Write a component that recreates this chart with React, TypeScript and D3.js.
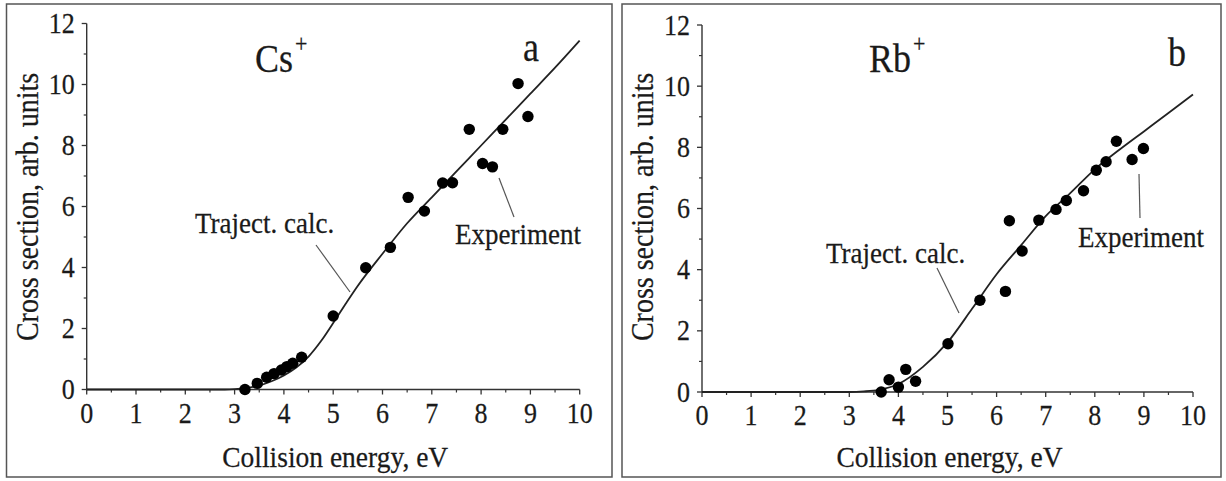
import React from "react";
import * as d3 from "d3";

// ---------- data ----------
const X_TICKS = [0, 1, 2, 3, 4, 5, 6, 7, 8, 9, 10];
const Y_TICKS = [0, 2, 4, 6, 8, 10, 12];

// Cs+ experiment
const CS_EXP_E = [3.21, 3.46, 3.65, 3.8, 3.95, 4.06, 4.18, 4.36, 5.0, 5.66, 6.16, 6.52, 6.85, 7.22, 7.42, 7.76, 8.03, 8.23, 8.44, 8.75, 8.95];
const CS_EXP_S = [0.0, 0.2, 0.4, 0.52, 0.64, 0.75, 0.86, 1.06, 2.41, 3.99, 4.66, 6.3, 5.85, 6.77, 6.78, 8.53, 7.41, 7.3, 8.53, 10.03, 8.95];
// Cs+ trajectory calculation
const CS_CALC_E = [0, 1, 2, 2.8, 3.0, 3.25, 3.5, 3.75, 4.0, 4.25, 4.5, 4.75, 5.0, 5.25, 5.5, 6.0, 6.5, 7.0, 7.5, 8.0, 8.5, 9.0, 9.5, 10.0];
const CS_CALC_S = [0, 0, 0, 0, 0.01, 0.05, 0.13, 0.27, 0.46, 0.72, 1.08, 1.58, 2.18, 2.8, 3.4, 4.45, 5.45, 6.3, 7.15, 8.0, 8.85, 9.7, 10.55, 11.44];

// Rb+ experiment
const RB_EXP_E = [3.65, 3.81, 4.0, 4.15, 4.35, 5.01, 5.66, 6.18, 6.26, 6.52, 6.86, 7.21, 7.42, 7.77, 8.03, 8.23, 8.44, 8.76, 8.99];
const RB_EXP_S = [0.0, 0.4, 0.16, 0.74, 0.35, 1.58, 3.0, 3.29, 5.6, 4.61, 5.62, 5.97, 6.26, 6.58, 7.25, 7.53, 8.2, 7.6, 7.96];
// Rb+ trajectory calculation
const RB_CALC_E = [0, 1, 2, 3.0, 3.3, 3.6, 4.0, 4.5, 5.0, 5.5, 6.0, 6.5, 7.0, 7.5, 8.0, 8.5, 9.0, 9.5, 10.0];
const RB_CALC_S = [0, 0, 0, 0.0, 0.02, 0.07, 0.26, 0.82, 1.62, 2.72, 3.85, 4.8, 5.75, 6.5, 7.28, 7.92, 8.52, 9.12, 9.73];

const X_TITLE = "Collision energy, eV";
const Y_TITLE = "Cross section, arb. units";
const CALC_LABEL = "Traject. calc.";
const EXP_LABEL = "Experiment";

const FONT = "Liberation Serif, Tinos, Times New Roman, DejaVu Serif, serif";
const INK = "#1a1a1a";
const TALL = 1.1; // glyphs in the reference are slightly taller than wide

type TProps = {
  x: number;
  y: number;
  size: number;
  anchor?: "start" | "middle" | "end";
  rotate?: number;
  children: React.ReactNode;
};

function T({ x, y, size, anchor = "start", rotate = 0, children }: TProps) {
  return (
    <text
      transform={`translate(${x},${y}) rotate(${rotate}) scale(${1 / TALL},1)`}
      textAnchor={anchor}
      fontSize={size * TALL}
      fill={INK}
      stroke={INK}
      strokeWidth={0.25}
    >
      {children}
    </text>
  );
}

type PanelProps = {
  frame: { x: number; y: number; w: number; h: number };
  plot: { x0: number; x1: number; y0: number; y1: number };
  expE: number[];
  expS: number[];
  calcE: number[];
  calcS: number[];
  ion: string;
  ionPos: [number, number];
  plusPos: [number, number];
  letter: string;
  letterPos: [number, number];
  calcPos: [number, number];
  calcLine: [number, number, number, number];
  expPos: [number, number];
  expLine: [number, number, number, number];
};

function Panel(p: PanelProps) {
  const x = d3.scaleLinear().domain([0, 10]).range([p.plot.x0, p.plot.x1]);
  const y = d3.scaleLinear().domain([0, 12]).range([p.plot.y0, p.plot.y1]);
  const calc = p.calcE.map((e, i) => [e, p.calcS[i]] as [number, number]);
  const line = d3
    .line<[number, number]>()
    .x((d) => x(d[0]))
    .y((d) => y(d[1]))
    .curve(d3.curveMonotoneX);
  const xMinor = d3.range(0.5, 10, 1);
  const yMinor = d3.range(1, 12, 2);
  const cx = (p.plot.x0 + p.plot.x1) / 2;
  return (
    <g fontFamily={FONT} style={{ fontFamily: FONT }}>
      <rect x={p.frame.x} y={p.frame.y} width={p.frame.w} height={p.frame.h} fill="#fff" stroke="#555" strokeWidth={1.5} />
      {/* axes */}
      <line x1={x(0)} x2={x(10)} y1={y(0)} y2={y(0)} stroke="#333" strokeWidth={1.4} />
      <line x1={x(0)} x2={x(0)} y1={y(0)} y2={y(12)} stroke="#333" strokeWidth={1.4} />
      {X_TICKS.map((t) => (
        <g key={"xt" + t}>
          <line x1={x(t)} x2={x(t)} y1={y(0)} y2={y(0) + 5} stroke="#333" strokeWidth={1.3} />
          <T x={x(t)} y={y(0) + 33} size={26} anchor="middle">
            {t}
          </T>
        </g>
      ))}
      {xMinor.map((t) => (
        <line key={"xm" + t} x1={x(t)} x2={x(t)} y1={y(0)} y2={y(0) + 3} stroke="#333" strokeWidth={1.2} />
      ))}
      {Y_TICKS.map((t) => (
        <g key={"yt" + t}>
          <line x1={x(0) - 5} x2={x(0)} y1={y(t)} y2={y(t)} stroke="#333" strokeWidth={1.3} />
          <T x={x(0) - 12} y={y(t) + 9.5} size={26} anchor="end">
            {t}
          </T>
        </g>
      ))}
      {yMinor.map((t) => (
        <line key={"ym" + t} x1={x(0) - 3} x2={x(0)} y1={y(t)} y2={y(t)} stroke="#333" strokeWidth={1.2} />
      ))}
      {/* titles */}
      <T x={cx + 2} y={467} size={27.5} anchor="middle">
        {X_TITLE}
      </T>
      <T x={p.frame.x + 31} y={207} size={28} anchor="middle" rotate={-90}>
        {Y_TITLE}
      </T>
      {/* calculation curve */}
      <path d={line(calc) || ""} fill="none" stroke="#222" strokeWidth={1.8} />
      {/* experiment points */}
      {p.expE.map((e, i) => (
        <circle key={"p" + i} cx={x(e)} cy={y(p.expS[i])} r={5.7} fill="#000" />
      ))}
      {/* annotations */}
      <T x={p.ionPos[0]} y={p.ionPos[1]} size={36}>
        {p.ion}
      </T>
      <T x={p.plusPos[0]} y={p.plusPos[1]} size={22}>
        +
      </T>
      <T x={p.letterPos[0]} y={p.letterPos[1]} size={36}>
        {p.letter}
      </T>
      <T x={p.calcPos[0]} y={p.calcPos[1]} size={27}>
        {CALC_LABEL}
      </T>
      <line x1={p.calcLine[0]} y1={p.calcLine[1]} x2={p.calcLine[2]} y2={p.calcLine[3]} stroke="#555" strokeWidth={1.2} />
      <T x={p.expPos[0]} y={p.expPos[1]} size={27}>
        {EXP_LABEL}
      </T>
      <line x1={p.expLine[0]} y1={p.expLine[1]} x2={p.expLine[2]} y2={p.expLine[3]} stroke="#555" strokeWidth={1.2} />
    </g>
  );
}

export default function App() {
  return (
    <svg
      width={1226}
      height={481}
      viewBox="0 0 1226 481"
      style={{ position: "absolute", left: 0, top: 0, background: "#fff" }}
    >
      <rect x={0} y={0} width={1226} height={481} fill="#fff" />
      <Panel
        frame={{ x: 6.5, y: 4, w: 605.5, h: 473 }}
        plot={{ x0: 86.7, x1: 579.7, y0: 389.5, y1: 23.5 }}
        expE={CS_EXP_E}
        expS={CS_EXP_S}
        calcE={CS_CALC_E}
        calcS={CS_CALC_S}
        ion="Cs"
        ionPos={[255, 72]}
        plusPos={[295, 52]}
        letter="a"
        letterPos={[523, 61]}
        calcPos={[195, 233]}
        calcLine={[316, 245, 350, 292]}
        expPos={[455, 244]}
        expLine={[499, 178, 514, 217]}
      />
      <Panel
        frame={{ x: 622, y: 4, w: 599, h: 473 }}
        plot={{ x0: 702, x1: 1193, y0: 392, y1: 25 }}
        expE={RB_EXP_E}
        expS={RB_EXP_S}
        calcE={RB_CALC_E}
        calcS={RB_CALC_S}
        ion="Rb"
        ionPos={[869, 72]}
        plusPos={[913, 52]}
        letter="b"
        letterPos={[1168, 66]}
        calcPos={[826, 263]}
        calcLine={[937, 268, 959, 313]}
        expPos={[1078, 247]}
        expLine={[1139, 174, 1140, 218]}
      />
    </svg>
  );
}
